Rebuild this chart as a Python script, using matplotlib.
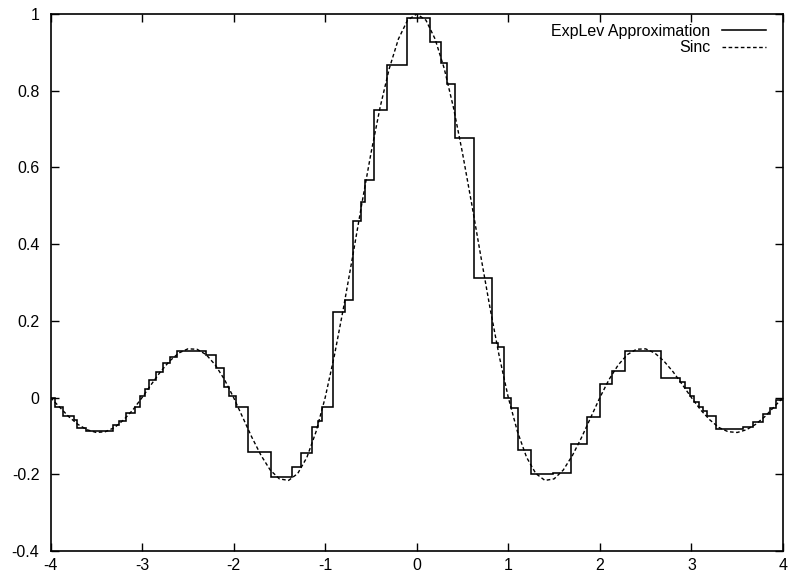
import numpy as np
import matplotlib
matplotlib.use("Agg")
import matplotlib.pyplot as plt

plt.rcParams['font.family'] = ['Liberation Sans', 'DejaVu Sans']
plt.rcParams['axes.unicode_minus'] = False

# dashed reference curve, every 0.1
sinc_x = np.linspace(-4, 4, 81)
sinc_y = [0.000, -0.025, -0.050, -0.070, -0.084, -0.091, -0.089, -0.078, -0.058, -0.032,
          0.000, 0.034, 0.067, 0.095, 0.116, 0.127, 0.126, 0.112, 0.085, 0.047,
          0.000, -0.052, -0.104, -0.151, -0.189, -0.212, -0.216, -0.198, -0.156, -0.089,
          0.000, 0.109, 0.234, 0.368, 0.505, 0.637, 0.757, 0.858, 0.935, 0.984,
          1.000,
          0.984, 0.935, 0.858, 0.757, 0.637, 0.505, 0.368, 0.234, 0.109, 0.000,
          -0.089, -0.156, -0.198, -0.216, -0.212, -0.189, -0.151, -0.104, -0.052, 0.000,
          0.047, 0.085, 0.112, 0.126, 0.127, 0.116, 0.095, 0.067, 0.034, 0.000,
          -0.032, -0.058, -0.078, -0.089, -0.091, -0.084, -0.070, -0.050, -0.025, 0.000]

# staircase approximation: step edges and level of each step
step_edges = [-4.00, -3.95, -3.86, -3.74, -3.71, -3.61, -3.32, -3.25, -3.18, -3.08,
              -3.02, -2.97, -2.92, -2.85, -2.77, -2.70, -2.62, -2.30, -2.19, -2.10,
              -2.05, -1.97, -1.84, -1.59, -1.36, -1.26, -1.14, -1.08, -1.04, -0.91,
              -0.785, -0.70, -0.61, -0.57, -0.47, -0.33, -0.11, 0.14, 0.26, 0.325,
              0.416, 0.623, 0.82, 0.889, 0.954, 1.024, 1.107, 1.246, 1.486, 1.69,
              1.854, 2.0, 2.127, 2.277, 2.67, 2.872, 2.93, 2.98, 3.03, 3.08,
              3.13, 3.17, 3.265, 3.563, 3.672, 3.782, 3.855, 3.928, 4.0]
step_vals = [-0.002, -0.024, -0.048, -0.058, -0.080, -0.088, -0.071, -0.060, -0.039, -0.024,
             0.004, 0.022, 0.045, 0.066, 0.089, 0.107, 0.121, 0.111, 0.076, 0.027,
             0.004, -0.024, -0.141, -0.208, -0.181, -0.145, -0.076, -0.060, -0.025, 0.224,
             0.254, 0.461, 0.511, 0.567, 0.750, 0.867, 0.989, 0.928, 0.871, 0.818,
             0.678, 0.313, 0.142, 0.133, -0.002, -0.026, -0.137, -0.199, -0.196, -0.121,
             -0.051, 0.035, 0.069, 0.122, 0.052, 0.041, 0.025, 0.005, -0.011, -0.025,
             -0.035, -0.048, -0.083, -0.078, -0.063, -0.043, -0.028, -0.006]

x_ticks = [-4, -3, -2, -1, 0, 1, 2, 3, 4]
y_ticks = [-0.4, -0.2, 0, 0.2, 0.4, 0.6, 0.8, 1]
y_labels = ['-0.4', '-0.2', '0', '0.2', '0.4', '0.6', '0.8', '1']

fig = plt.figure(figsize=(7.91, 5.76), dpi=100, facecolor='white')
ax = fig.add_axes([50.5 / 791, 1 - 551 / 576, 732.5 / 791, 537 / 576])

ax.stairs(step_vals, step_edges, baseline=None, color='black', lw=1.15,
          label='ExpLev Approximation')
ax.plot(sinc_x, sinc_y, color='black', lw=1.0, linestyle=(0, (2.6, 1.8)), label='Sinc')

ax.set_xlim(-4, 4)
ax.set_ylim(-0.4, 1)
ax.set_xticks(x_ticks)
ax.set_xticklabels([str(t) for t in x_ticks])
ax.set_yticks(y_ticks)
ax.set_yticklabels(y_labels)
ax.tick_params(direction='in', length=5.5, width=1, top=True, right=True,
               labelsize=11.5, colors='black')
ax.tick_params(axis='x', pad=5)
ax.tick_params(axis='y', pad=8)
for s in ax.spines.values():
    s.set_linewidth(1.2)

ax.legend(loc='upper right', bbox_to_anchor=(0.9768, 0.982), frameon=False,
          markerfirst=False, borderpad=0, borderaxespad=0, fontsize=11.5,
          handlelength=2.75, handletextpad=0.75, labelspacing=0.1)

fig.savefig('out.png', dpi=100, facecolor='white')
